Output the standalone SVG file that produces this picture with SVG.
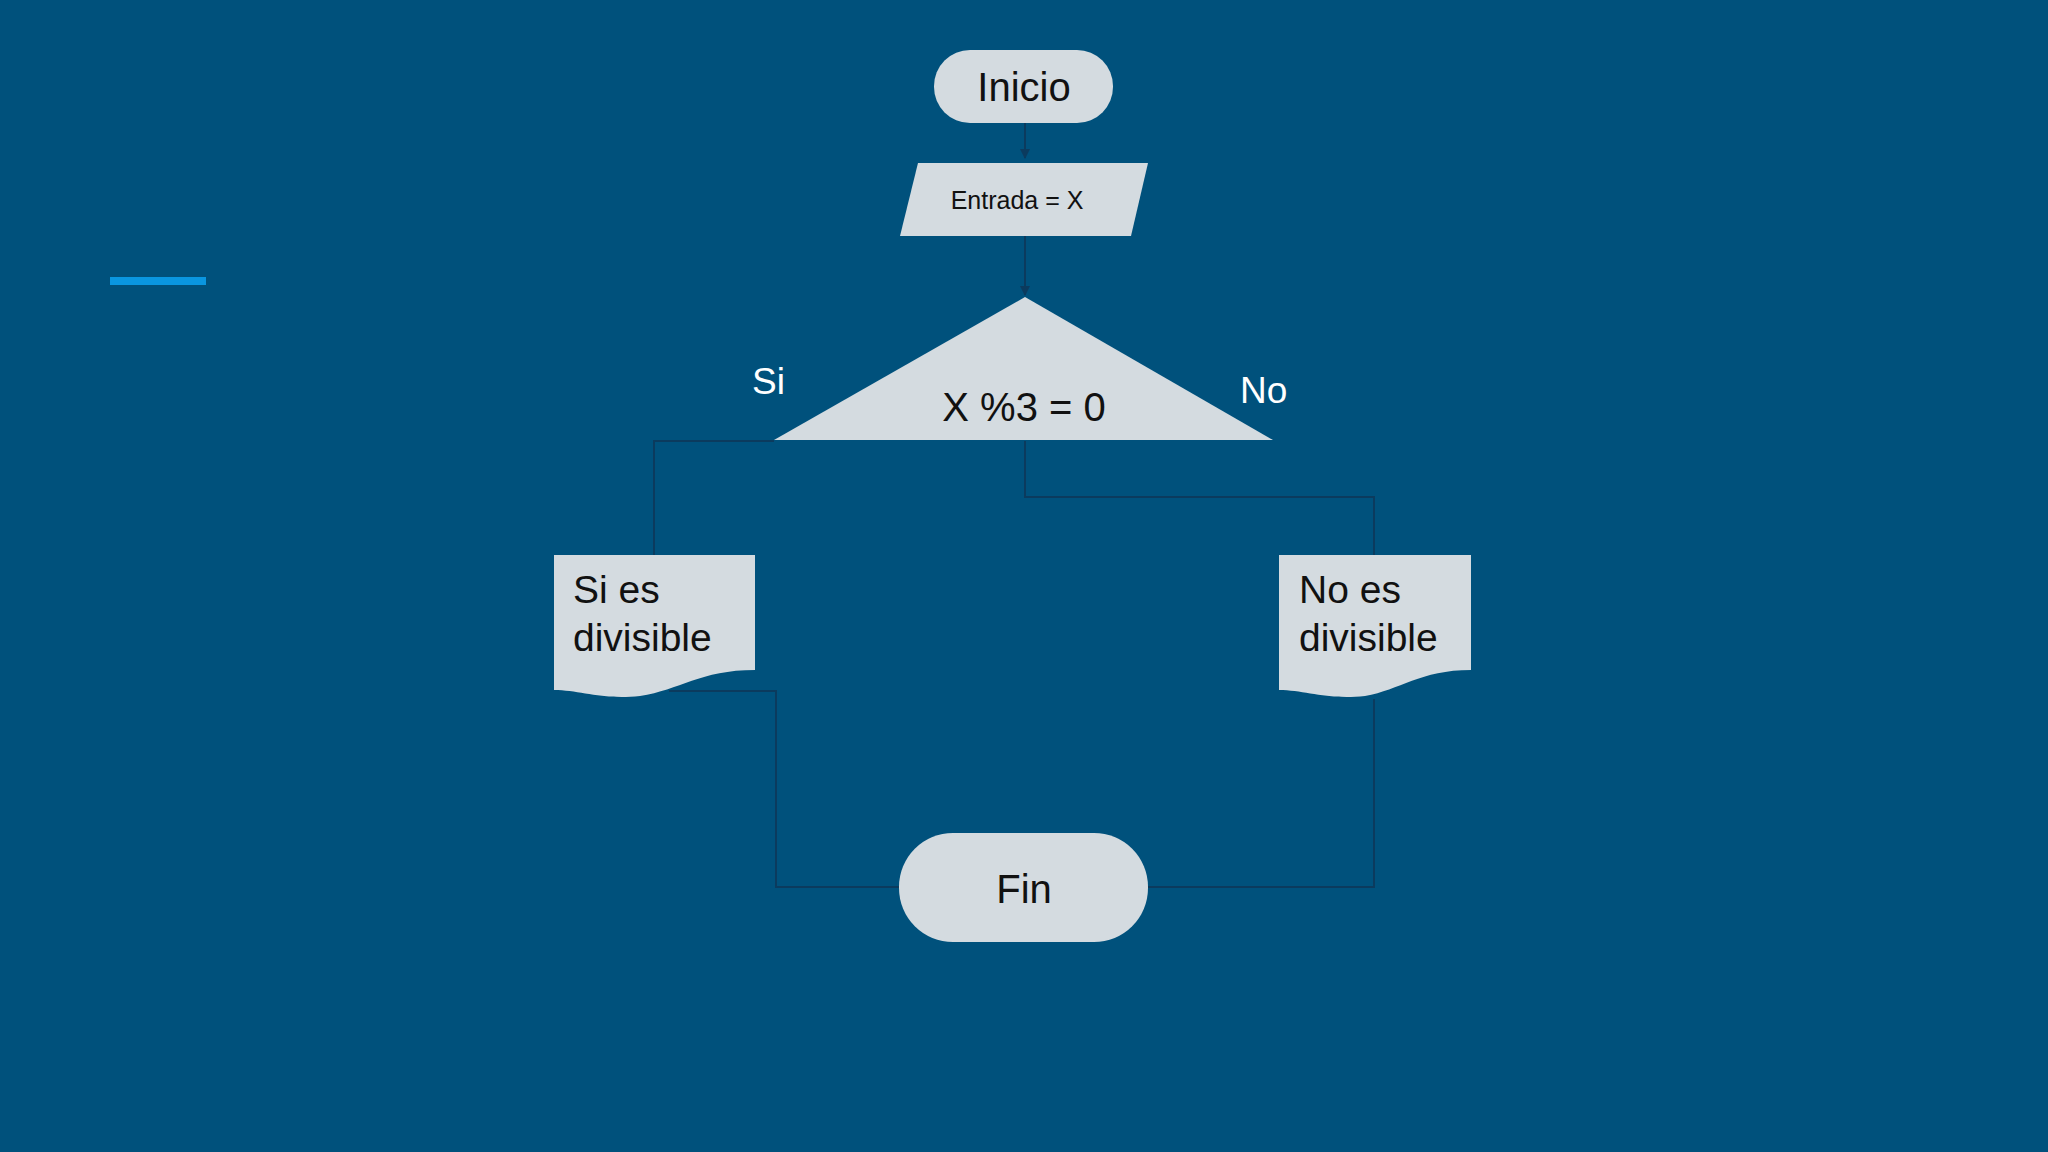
<svg xmlns="http://www.w3.org/2000/svg" width="2048" height="1152" viewBox="0 0 2048 1152">
<style>
.n{fill:#d4dbe0;stroke:none}
.c{fill:none;stroke:#0b3b5e;stroke-width:2}
.t{font-family:"Liberation Sans",Arial,sans-serif;fill:#111}
.w{font-family:"Liberation Sans",Arial,sans-serif;fill:#fff;font-size:37px}
</style>
<defs><marker id="a" markerWidth="10" markerHeight="10" refX="9" refY="5" orient="auto" markerUnits="userSpaceOnUse"><path d="M0,0L10,5L0,10z" fill="#0b3b5e"/></marker></defs>
<rect width="2048" height="1152" fill="#00517c"/>
<rect x="110" y="277" width="96" height="8" fill="#0a96e0"/>
<g id="connectors">
<path class="c" d="M1025,123V158" marker-end="url(#a)"/>
<path class="c" d="M1025,236V295" marker-end="url(#a)"/>
<path class="c" d="M774,441H654V555"/>
<path class="c" d="M1025,441V497H1374V555"/>
<path class="c" d="M669,691H776V887H899"/>
<path class="c" d="M1374,699V887H1148"/>
</g>
<g id="inicio"><rect class="n" x="934" y="50" width="179" height="73" rx="36"/><text class="t" x="1024" y="101" font-size="40" text-anchor="middle">Inicio</text></g>
<g id="entrada"><polygon class="n" points="918,163 1148,163 1131,236 900,236"/><text class="t" x="1017" y="209" font-size="25" text-anchor="middle">Entrada = X</text></g>
<g id="decision"><polygon class="n" points="1025,297 1273,440 774,440"/><text class="t" x="1024" y="421" font-size="40" text-anchor="middle">X %3 = 0</text></g>
<text class="w" x="752" y="394">Si</text>
<text class="w" x="1240" y="403">No</text>
<g id="si"><path class="n" d="M554,555H755V670C700,670 680,690 640,696C600,700 580,690 554,690Z"/><text class="t" font-size="39"><tspan x="573" y="603">Si es</tspan><tspan x="573" y="651">divisible</tspan></text></g>
<g id="no"><path class="n" d="M1279,555H1471V670C1420,670 1400,690 1365,696C1325,700 1305,690 1279,690Z"/><text class="t" font-size="39"><tspan x="1299" y="603">No es</tspan><tspan x="1299" y="651">divisible</tspan></text></g>
<g id="fin"><rect class="n" x="899" y="833" width="249" height="109" rx="54"/><text class="t" x="1024" y="903" font-size="40" text-anchor="middle">Fin</text></g>
</svg>
